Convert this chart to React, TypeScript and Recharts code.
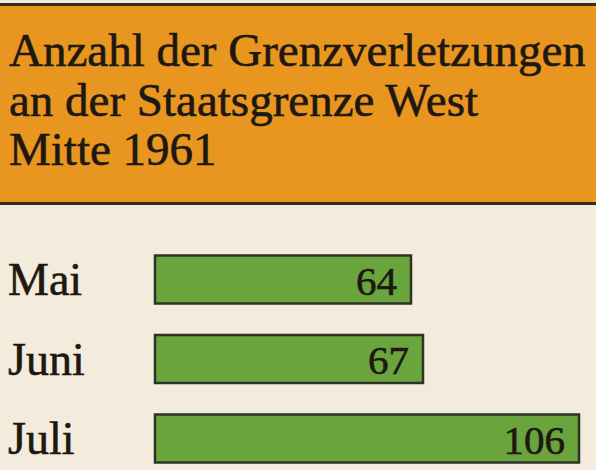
import React from 'react';
import { BarChart, Bar, XAxis, YAxis, LabelList } from 'recharts';

const months = ['Mai', 'Juni', 'Juli'];
const violations = [64, 67, 106];
const titleLines = ['Anzahl der Grenzverletzungen', 'an der Staatsgrenze West', 'Mitte 1961'];

const data = months.map((month, i) => ({ month, value: violations[i] }));

const FONT = '"Liberation Serif", "Times New Roman", serif';
const INK = '#1e1812';

// slight stroke imitates the ink spread of the printed original
const MonthTick = (props: any) => {
  const { y, payload } = props;
  return (
    <text
      x={8}
      y={y + 16}
      fontSize={46}
      fontFamily={FONT}
      fill={INK}
      stroke={INK}
      strokeWidth={0.6}
      textAnchor="start"
    >
      {payload.value}
    </text>
  );
};

const ValueLabel = (props: any) => {
  const { x, y, width, height, value } = props;
  return (
    <text
      x={x + width - 14}
      y={y + height / 2 + 15}
      fontSize={41}
      fontFamily={FONT}
      fill={INK}
      stroke={INK}
      strokeWidth={0.6}
      textAnchor="end"
    >
      {value}
    </text>
  );
};

export default function App() {
  return (
    <div
      style={{
        position: 'absolute',
        top: 0,
        left: 0,
        width: 596,
        height: 470,
        overflow: 'hidden',
        background: '#f3ebdc',
      }}
    >
      <svg width={596} height={210} style={{ position: 'absolute', top: 0, left: 0 }}>
        <rect x={0} y={3} width={596} height={202} fill="#e8961f" />
        <rect x={0} y={3} width={596} height={3} fill="#3a2a1a" />
        <rect x={0} y={202} width={596} height={3} fill="#3a2a1a" />
        {titleLines.map((line, i) => (
          <text
            key={line}
            x={9}
            y={66 + i * 49.5}
            fontSize={47}
            fontFamily={FONT}
            fill={INK}
            stroke={INK}
            strokeWidth={0.6}
          >
            {line}
          </text>
        ))}
      </svg>
      <div style={{ position: 'absolute', top: 206, left: 0 }}>
        <BarChart
          width={596}
          height={272}
          data={data}
          layout="vertical"
          margin={{ top: 33.5, right: 17, bottom: 0, left: 0 }}
        >
          <XAxis type="number" domain={[0, 106]} hide />
          <YAxis
            type="category"
            dataKey="month"
            width={155}
            axisLine={false}
            tickLine={false}
            tick={<MonthTick />}
          />
          <Bar
            dataKey="value"
            fill="#6aa43c"
            stroke="#2f3326"
            strokeWidth={2.5}
            barSize={48}
            isAnimationActive={false}
          >
            <LabelList dataKey="value" content={<ValueLabel />} />
          </Bar>
        </BarChart>
      </div>
    </div>
  );
}
